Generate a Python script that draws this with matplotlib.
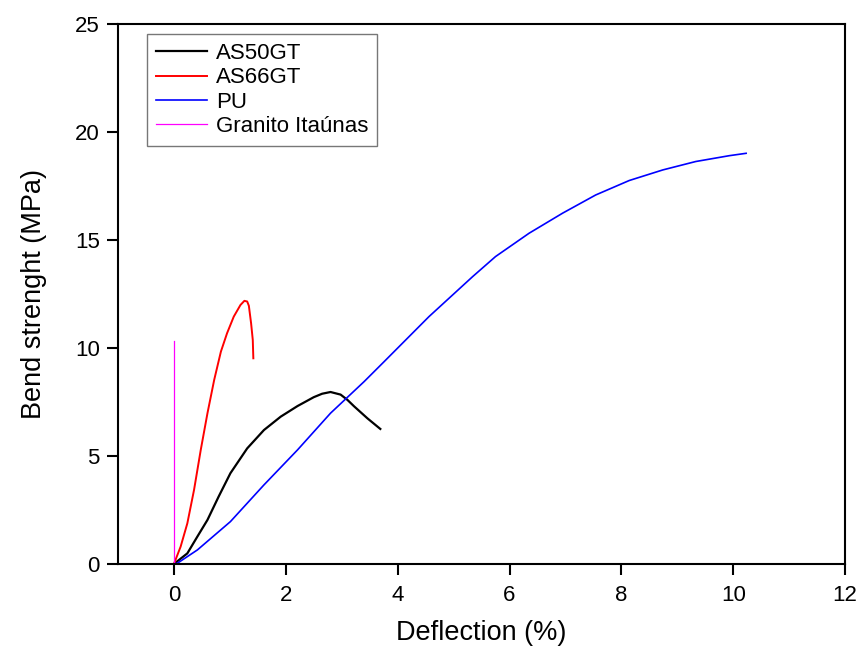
import numpy as np
import matplotlib.pyplot as plt

# data
as50_x = [0.0, 0.03, 0.24, 0.42, 0.6, 0.8, 1.01, 1.31, 1.61, 1.91, 2.21, 2.5, 2.65, 2.8, 2.98,
          3.1, 3.22, 3.46, 3.69]
as50_y = [0.0, 0.06, 0.49, 1.27, 2.04, 3.12, 4.2, 5.35, 6.2, 6.82, 7.31, 7.72, 7.88, 7.96, 7.84,
          7.6, 7.3, 6.74, 6.25]

as66_x = [0.0, 0.12, 0.24, 0.36, 0.48, 0.6, 0.72, 0.84, 0.95, 1.07, 1.19, 1.26, 1.31, 1.34, 1.38,
          1.41, 1.42]
as66_y = [0.0, 0.8, 1.88, 3.43, 5.28, 6.98, 8.52, 9.83, 10.68, 11.45, 11.99, 12.18, 12.15, 11.95,
          11.14, 10.37, 9.52]

pu_x = [0.0, 0.06, 0.42, 1.01, 1.61, 2.21, 2.8, 3.4, 3.76, 4.56, 5.34, 5.75, 6.35, 6.95,
        7.54, 8.14, 8.74, 9.33, 9.93, 10.23]
pu_y = [0.0, 0.03, 0.65, 1.96, 3.66, 5.28, 6.98, 8.44, 9.37, 11.45, 13.3, 14.23, 15.31, 16.24,
        17.08, 17.75, 18.24, 18.63, 18.9, 19.01]

gr_x = [0.0, 0.0]
gr_y = [0.0, 10.3]

plt.rcParams['font.family'] = ['Liberation Sans', 'DejaVu Sans']

fig = plt.figure(figsize=(8.58, 6.46), dpi=100)
ax = fig.add_axes([0.1375, 0.127, 0.8475, 0.836])

ax.plot(as50_x, as50_y, color='black', lw=1.6, label='AS50GT')
ax.plot(as66_x, as66_y, color='red', lw=1.4, label='AS66GT')
ax.plot(pu_x, pu_y, color='blue', lw=1.2, label='PU')
ax.plot(gr_x, gr_y, color='magenta', lw=0.9, label='Granito Itaúnas')

ax.set_xlim(-1, 12)
ax.set_ylim(0, 25)
ax.set_xticks(np.arange(0, 13, 2))
ax.set_yticks(np.arange(0, 26, 5))
ax.tick_params(direction='out', length=8, width=1.5, labelsize=16)
ax.tick_params(axis='x', pad=7)
ax.tick_params(axis='y', pad=5)
for s in ax.spines.values():
    s.set_linewidth(1.5)

ax.set_xlabel('Deflection (%)', fontsize=19.5, labelpad=10)
ax.set_ylabel('Bend strenght (MPa)', fontsize=19.5, labelpad=20)

leg = ax.legend(loc='upper left', bbox_to_anchor=(0.04, 0.981), fontsize=16,
                frameon=True, fancybox=False, edgecolor='#555555',
                handlelength=2.3, handletextpad=0.4, borderpad=0.4,
                labelspacing=0.15, borderaxespad=0)
leg.get_frame().set_linewidth(1.0)

fig.savefig('out.png', dpi=100)
